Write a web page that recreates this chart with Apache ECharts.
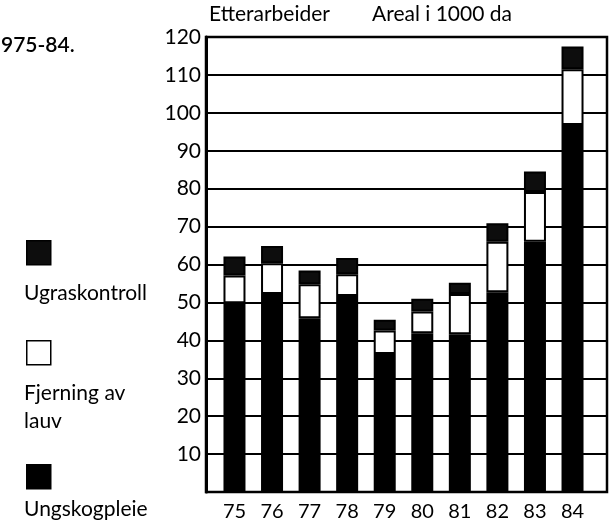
<!DOCTYPE html>
<html><head><meta charset="utf-8">
<script src="https://cdn.jsdelivr.net/npm/echarts@6/dist/echarts.min.js"></script>
<style>html,body{margin:0;padding:0;background:#fff}#c{width:611px;height:526px}</style>
</head><body><div id="c"></div>
<script>
// Data
const years = ['75', '76', '77', '78', '79', '80', '81', '82', '83', '84'];
const seriesNames = ['Ungskogpleie', 'Fjerning av lauv', 'Ugraskontroll'];
const ungskogpleie   = [49.8, 52.2, 45.8, 51.7, 36.4, 41.9, 41.6, 52.7, 66.0, 96.8];
const fjerningAvLauv = [7.3, 8.1, 9.0, 5.7, 6.2, 5.7, 10.6, 13.3, 13.1, 14.7];
const ugraskontroll  = [5.0, 4.6, 3.6, 4.3, 2.8, 3.4, 3.0, 4.9, 5.4, 6.0];
const yMax = 120;
const yStep = 10;
const headerLeft = 'Etterarbeider';
const headerRight = 'Areal i 1000 da';
const cornerText = '975-84.';
const legendLabels = ['Ugraskontroll', 'Fjerning av\nlauv', 'Ungskogpleie'];

const TXT = 'Lato';
const NUM = 'Lato';
const chart = echarts.init(document.getElementById('c'), null, {renderer: 'canvas'});

const colors = ['#000000', '#ffffff', '#0d0d0d'];
const valueSets = [ungskogpleie, fjerningAvLauv, ugraskontroll];

const series = seriesNames.map((name, k) => ({
  name: name,
  type: 'bar',
  stack: 'total',
  xAxisIndex: 1,
  yAxisIndex: 1,
  barWidth: 22,
  data: valueSets[k],
  itemStyle: {color: colors[k], borderColor: '#000', borderWidth: 2},
  emphasis: {disabled: true}
}));

const legendGraphics = [];
const legendIconTops = [240, 340, 464];
const legendTextTops = [279, 379, 495];
const legendColors = ['#0d0d0d', '#ffffff', '#000000'];
legendLabels.forEach((t, i) => {
  legendGraphics.push({
    type: 'rect', left: 26, top: legendIconTops[i],
    shape: {width: 24, height: 24},
    style: {fill: legendColors[i], stroke: '#000', lineWidth: 1.5}
  });
  legendGraphics.push({
    type: 'text', left: 24, top: legendTextTops[i],
    style: {text: t, font: '21px "' + TXT + '"', fill: '#000', lineHeight: 28}
  });
});

chart.setOption({
  animation: false,
  backgroundColor: '#fff',
  grid: [
    {left: 206, right: 4, top: 37, bottom: 34, show: true, borderColor: '#000', borderWidth: 2.5, backgroundColor: 'transparent'},
    {left: 215.7, right: 19.7, top: 37, bottom: 34}
  ],
  xAxis: [
    {type: 'value', gridIndex: 0, min: 0, max: 1, show: false},
    {
      type: 'category', gridIndex: 1, data: years,
      axisLine: {show: false},
      axisTick: {show: false},
      axisLabel: {color: '#000', fontFamily: NUM, fontSize: 20, margin: 10}
    }
  ],
  yAxis: [
    {
      type: 'value', gridIndex: 0, min: 0, max: yMax, interval: yStep,
      axisLine: {show: true, lineStyle: {color: '#000', width: 3}},
      axisTick: {show: false},
      splitLine: {show: true, lineStyle: {color: '#000', width: 2.2}},
      axisLabel: {showMinLabel: false, color: '#000', fontFamily: NUM, fontSize: 21, margin: 5}
    },
    {type: 'value', gridIndex: 1, min: 0, max: yMax, interval: yStep, show: false}
  ],
  series: series,
  graphic: [
    {type: 'text', left: 209, top: 4, style: {text: headerLeft, font: '21px "' + TXT + '"', fill: '#000'}},
    {type: 'text', left: 372, top: 4, style: {text: headerRight, font: '21px "' + TXT + '"', fill: '#000'}},
    {type: 'text', left: 1, top: 35, style: {text: cornerText, font: '600 21px "' + TXT + '"', fill: '#000'}}
  ].concat(legendGraphics)
});
</script></body></html>
